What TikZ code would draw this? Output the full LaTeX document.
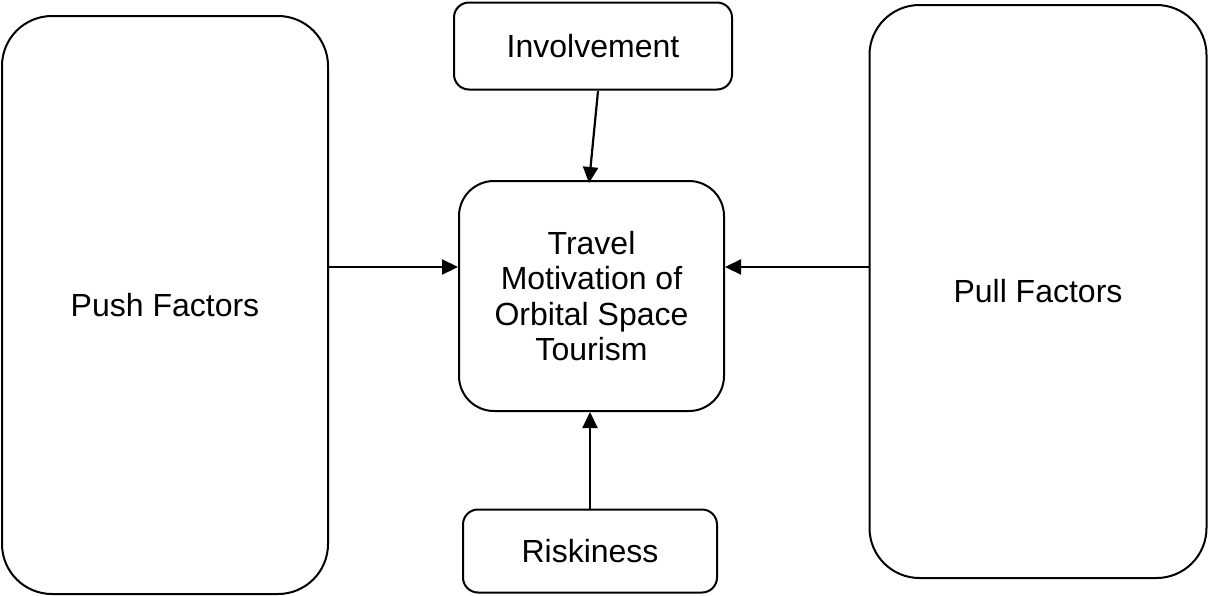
\documentclass[tikz,border=0pt]{standalone}
\usepackage{fontspec}
\setmainfont{Liberation Sans}
\usetikzlibrary{arrows.meta}
\begin{document}
\begin{tikzpicture}[x=1pt,y=-1pt,
  box/.style={draw,line width=2pt,rounded corners=#1,inner sep=0pt,align=center,font=\fontsize{32}{35.5}\selectfont},
  arr/.style={line width=2.2pt,-{Triangle[length=16pt,width=15pt]}}]
\useasboundingbox (0,0) rectangle (1208,595);
\node[box=50pt,minimum width=326pt,minimum height=578pt] (push) at (165,305) {Push Factors};
\node[box=50pt,minimum width=337pt,minimum height=573pt] (pull) at (1038,291.5) {Pull Factors};
\node[box=15pt,minimum width=278pt,minimum height=87pt] (inv) at (593,46) {Involvement};
\node[box=35pt,minimum width=265pt,minimum height=230pt] (mot) at (591.5,296) {Travel\\Motivation of\\Orbital Space\\Tourism};
\node[box=15pt,minimum width=254pt,minimum height=83pt] (risk) at (590,551) {Riskiness};
\coordinate (invs) at (598,91);
\coordinate (invt) at (589,183);
\draw[arr] (invs) -- (invt);
\draw[arr] (risk.north) -- (risk.north |- mot.south);
\draw[arr] (push.east |- 0,267) -- (mot.west |- 0,267);
\draw[arr] (pull.west |- 0,267) -- (mot.east |- 0,267);
\end{tikzpicture}
\end{document}
